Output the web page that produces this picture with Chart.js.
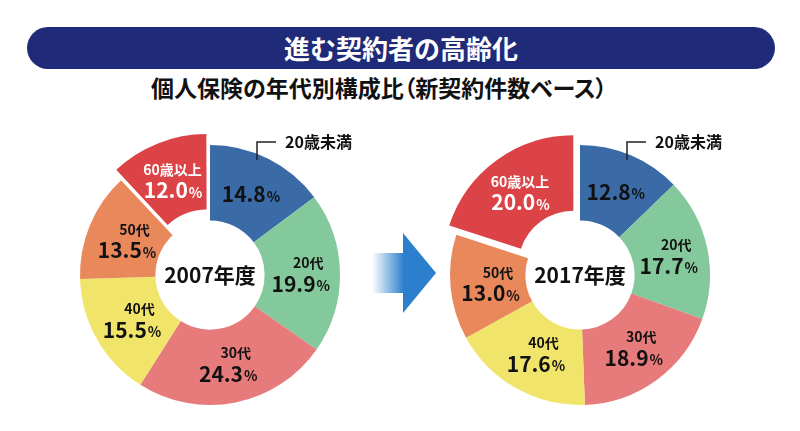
<!DOCTYPE html>
<html lang="ja">
<head>
<meta charset="utf-8">
<script src="https://cdn.jsdelivr.net/npm/chart.js@4"></script>
<style>
  body{margin:0;width:800px;height:431px;background:#fff;position:relative;overflow:hidden;
       font-family:"Noto Sans CJK JP","Noto Sans",sans-serif;}
  #banner{position:absolute;left:27px;top:27px;width:748px;height:42px;border-radius:21px;
          background:#1f2a78;color:#fff;font-weight:700;font-size:26px;line-height:42px;text-align:center;}
  #sub{position:absolute;left:0;width:758px;top:70px;text-align:center;font-weight:700;font-size:23px;color:#111;
       font-feature-settings:"palt";}
  canvas{position:absolute;}
  #arrow{position:absolute;left:360px;top:220px;}
</style>
</head>
<body>
<div id="banner">進む契約者の高齢化</div>
<div id="sub">個人保険の年代別構成比（新契約件数ベース）</div>
<svg id="arrow" width="90" height="110" viewBox="360 220 90 110">
  <defs>
    <linearGradient id="shaft" x1="372" y1="0" x2="404" y2="0" gradientUnits="userSpaceOnUse">
      <stop offset="0" stop-color="#2c7fcc" stop-opacity="0"/>
      <stop offset="1" stop-color="#2c7fcc" stop-opacity="1"/>
    </linearGradient>
  </defs>
  <rect x="372" y="253" width="32" height="40" fill="url(#shaft)"/>
  <polygon points="403,233 436,273 403,313" fill="#2c7fcc"/>
</svg>
<canvas id="c2007" width="340" height="300" style="left:40px;top:125px"></canvas>
<canvas id="c2017" width="340" height="300" style="left:410px;top:125px"></canvas>
<script>
// data
const categories = ['20歳未満', '20代', '30代', '40代', '50代', '60歳以上'];
const share2007 = [14.8, 19.9, 24.3, 15.5, 13.5, 12.0];
const share2017 = [12.8, 17.7, 18.9, 17.6, 13.0, 20.0];
const sliceColors = ['#3b6ba6', '#84c99b', '#e77b7c', '#f1e46b', '#e8885b', '#dc4346'];
// Chart.js arc offset (it moves the slice by about offset/4 * (1 + fix))
const offsets2007 = [0, 0, 0, 0, 0, 35];
const offsets2017 = [0, 0, 0, 0, 0, 45];

const FONT = '"Noto Sans CJK JP","Noto Sans",sans-serif';

// same shift ArcElement.draw applies for an offset slice
function arcShift(arc, p){
  const off = (arc.options.offset || 0) / 4;
  const circ = p.endAngle - p.startAngle;
  const fix = 1 - Math.sin(Math.min(Math.PI, circ));
  return off + off * fix;
}

// draws the value labels inside each slice, the year in the hole and the 20歳未満 callout
const sliceLabels = {
  id: 'sliceLabels',
  afterDatasetsDraw(chart, args, opts){
    const ctx = chart.ctx;
    const meta = chart.getDatasetMeta(0);
    const vals = chart.data.datasets[0].data;
    const names = chart.data.labels;
    let cx = 0, cy = 0;
    ctx.save();
    ctx.textBaseline = 'middle';
    meta.data.forEach((arc, i) => {
      const p = arc.getProps(['x','y','startAngle','endAngle','innerRadius','outerRadius']);
      cx = p.x; cy = p.y;
      const mid = (p.startAngle + p.endAngle) / 2;
      const r = (p.innerRadius + p.outerRadius) / 2 - 2 + arcShift(arc, p);
      const x = cx + Math.cos(mid) * r, y = cy + Math.sin(mid) * r;
      ctx.fillStyle = i === 5 ? '#fff' : '#111';
      const num = vals[i].toFixed(1);
      ctx.font = '700 21px ' + FONT;
      const wn = ctx.measureText(num).width;
      ctx.font = '700 14px ' + FONT;
      const wp = ctx.measureText('%').width;
      const py = i === 0 ? y : y + 10;
      const left = x - (wn + wp) / 2;
      ctx.textAlign = 'left';
      ctx.font = '700 21px ' + FONT;
      ctx.fillText(num, left, py);
      ctx.font = '700 14px ' + FONT;
      ctx.fillText('%', left + wn + 1, py + 2);
      if (i > 0){
        ctx.textAlign = 'center';
        ctx.fillText(names[i], x + (i === 5 ? 0 : 8), y - 11);
      }
    });
    // year in the hole
    ctx.fillStyle = '#111';
    ctx.textAlign = 'center';
    ctx.font = '700 21px ' + FONT;
    ctx.fillText(opts.year, cx, cy);
    // callout for the first slice
    ctx.strokeStyle = '#222';
    ctx.lineWidth = 1.5;
    ctx.beginPath();
    ctx.moveTo(cx + 47, cy - 115);
    ctx.lineTo(cx + 47, cy - 133);
    ctx.lineTo(cx + 66, cy - 133);
    ctx.stroke();
    ctx.textAlign = 'left';
    ctx.font = '700 16px ' + FONT;
    ctx.fillText(names[0], cx + 75, cy - 133);
    ctx.restore();
  }
};

function makeDonut(id, values, offsets, year){
  return new Chart(document.getElementById(id), {
    type: 'doughnut',
    data: {
      labels: categories,
      datasets: [{
        data: values,
        backgroundColor: sliceColors,
        borderWidth: 0,
        offset: offsets
      }]
    },
    options: {
      responsive: false,
      animation: false,
      radius: 130,
      cutout: '42%',
      layout: { padding: 0 },
      plugins: {
        legend: { display: false },
        tooltip: { enabled: false },
        sliceLabels: { year: year }
      }
    },
    plugins: [sliceLabels]
  });
}

makeDonut('c2007', share2007, offsets2007, '2007年度');
makeDonut('c2017', share2017, offsets2017, '2017年度');
</script>
</body>
</html>
